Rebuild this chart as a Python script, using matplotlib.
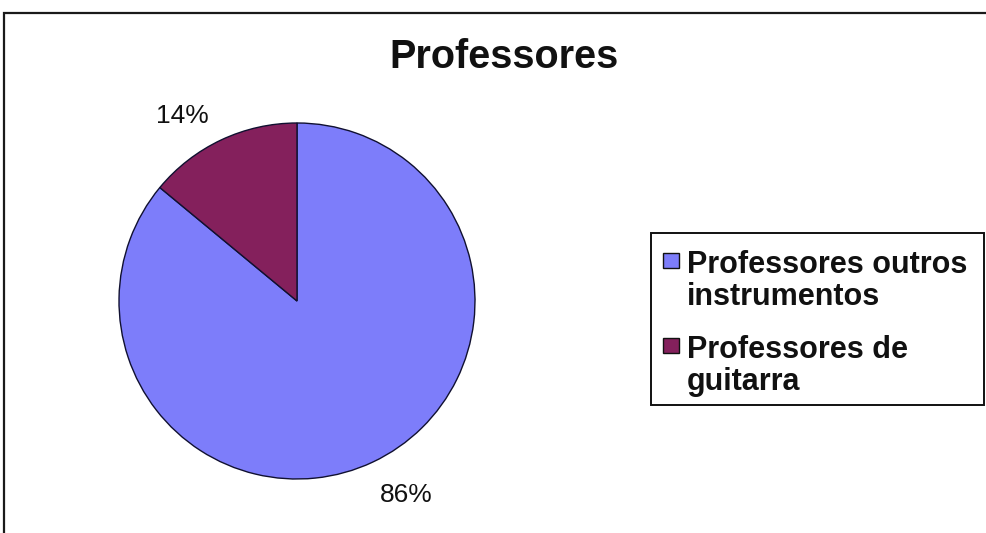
import numpy as np
import matplotlib
matplotlib.use("Agg")
import matplotlib.pyplot as plt
from matplotlib.patches import Rectangle

plt.rcParams['font.family'] = ['Liberation Sans', 'DejaVu Sans']

title = "Professores"
labels = ["Professores outros\ninstrumentos", "Professores de\nguitarra"]
values = [86, 14]
colors = ["#7D7DFA", "#84205C"]

W, H = 987, 533
fig = plt.figure(figsize=(W / 100, H / 100), dpi=100)
fig.patch.set_facecolor("white")

# outer chart frame (open at the right and bottom edges of the canvas)
fig.add_artist(Rectangle((4.5 / W, -0.1), 1.2, (H - 12.5) / H + 0.1,
                         transform=fig.transFigure, fill=False,
                         edgecolor="#1a1a1a", linewidth=1.6))

cx, cy, r = 297, 301, 178
ax = fig.add_axes([(cx - r) / W, (H - cy - r) / H, 2 * r / W, 2 * r / H])
wedges, _ = ax.pie(values, colors=colors, startangle=90, counterclock=False,
                   radius=1.0,
                   wedgeprops=dict(edgecolor="#101030", linewidth=1.0))
ax.set_xlim(-1, 1)
ax.set_ylim(-1, 1)
ax.set_aspect("equal")
ax.axis("off")

# percentage labels just outside each wedge, nudged in pixels
nudges = [(1, -8), (-6, -1)]
total = sum(values)
for w, v, (dx, dy) in zip(wedges, values, nudges):
    mid = np.deg2rad((w.theta1 + w.theta2) / 2)
    d = 1.08
    x, y = d * np.cos(mid), d * np.sin(mid)
    ha = "right" if x < 0 else "left"
    va = "bottom" if y > 0 else "top"
    ax.annotate(f"{round(100 * v / total)}%", (x, y),
                xytext=(dx * 0.72, dy * 0.72), textcoords="offset points",
                ha=ha, va=va, fontsize=19, color="#111111",
                annotation_clip=False)

fig.text(504 / W, 1 - 57 / H, title, ha="center", va="center",
         fontsize=28.5, fontweight="bold", color="#111111")

# legend box
lx0, ly0, lx1, ly1 = 651, 233, 984, 405
fig.add_artist(Rectangle((lx0 / W, 1 - ly1 / H), (lx1 - lx0) / W, (ly1 - ly0) / H,
                         transform=fig.transFigure, fill=False,
                         edgecolor="#111111", linewidth=1.4))
first_baselines = [273, 358]
line_step = 32
for lab, col, base in zip(labels, colors, first_baselines):
    fig.add_artist(Rectangle((663 / W, 1 - 268 / H + (273 - base) / H), 16 / W, 15 / H,
                             transform=fig.transFigure, facecolor=col,
                             edgecolor="#111111", linewidth=1.0))
    for i, line in enumerate(lab.split("\n")):
        fig.text(687 / W, 1 - (base + i * line_step) / H, line,
                 ha="left", va="baseline",
                 fontsize=22, fontweight="bold", color="#111111")

fig.savefig("out.png", dpi=100, facecolor="white")
